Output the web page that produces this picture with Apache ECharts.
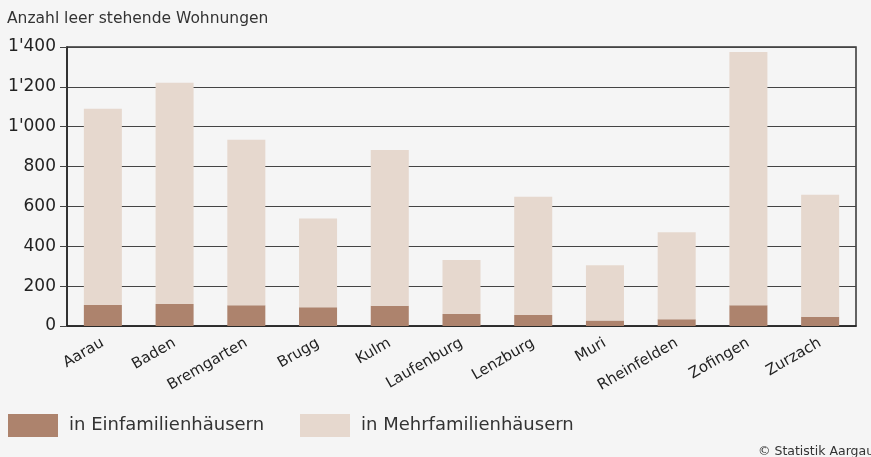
<!DOCTYPE html>
<html>
<head>
<meta charset="utf-8">
<script src="https://cdn.jsdelivr.net/npm/echarts@6/dist/echarts.min.js"></script>
<style>
html,body{margin:0;padding:0;background:#f5f5f5;}
#chart{width:871px;height:457px;}
</style>
</head>
<body>
<div id="chart"></div>
<script>
// Daten
var regionen = ['Aarau','Baden','Bremgarten','Brugg','Kulm','Laufenburg','Lenzburg','Muri','Rheinfelden','Zofingen','Zurzach'];
var einfamilien = [105,110,104,94,102,60,55,27,34,104,47];
var mehrfamilien = [985,1110,831,445,781,271,593,278,436,1271,611];
var yTicks = [0,200,400,600,800,1000,1200,1400];

var font = 'DejaVu Sans, Verdana, sans-serif';

function fmt(v){
	var s = String(v);
	return s.length > 3 ? s.slice(0, s.length-3) + "'" + s.slice(s.length-3) : s;
}

var myChart = echarts.init(document.getElementById('chart'));
var option = {
	backgroundColor: '#f5f5f5',
	animation: false,
	textStyle: {fontFamily: font},
	title: [
		{
			text: 'Anzahl leer stehende Wohnungen',
			left: 2, top: 6,
			textStyle: {fontSize: 15.5, fontWeight: 'normal', color: '#333', fontFamily: font}
		},
		{
			text: '© Statistik Aargau',
			left: 753, top: 440,
			textStyle: {fontSize: 12.5, fontWeight: 'normal', color: '#333', fontFamily: font}
		}
	],
	//两个图例分开放
	legend: [
		{
			left: 3, top: 409,
			icon: 'rect', itemWidth: 50, itemHeight: 23,
			data: ['in Einfamilienhäusern'],
			textStyle: {fontSize: 18, color: '#333', padding: [0,0,0,6], fontFamily: font}
		},
		{
			left: 295, top: 409,
			icon: 'rect', itemWidth: 50, itemHeight: 23,
			data: ['in Mehrfamilienhäusern'],
			textStyle: {fontSize: 18, color: '#333', padding: [0,0,0,6], fontFamily: font}
		}
	],
	grid: {
		left: 67, right: 15, top: 47, bottom: 131,
		show: true, borderColor: '#333', borderWidth: 1.5
	},
	xAxis: {
		type: 'category',
		data: regionen,
		axisLine: {lineStyle: {color: '#222', width: 1.5}},
		axisTick: {alignWithLabel: true, length: 6, lineStyle: {color: '#666'}},
		axisLabel: {rotate: 30, fontSize: 15, color: '#222', margin: 16, fontFamily: font}
	},
	yAxis: {
		type: 'value',
		min: 0, max: 1400, interval: 200,
		axisLine: {show: true, lineStyle: {color: '#222', width: 1.5}},
		axisTick: {show: true, length: 7, lineStyle: {color: '#444'}},
		splitLine: {lineStyle: {color: '#444', width: 1.2}},
		axisLabel: {fontSize: 17, color: '#222', margin: 11, fontFamily: font,
			formatter: function(v){ return yTicks.indexOf(v) >= 0 ? fmt(v) : ''; }}
	},
	series: [
		{
			name: 'in Einfamilienhäusern',
			type: 'bar', stack: 'total', barWidth: '53%',
			itemStyle: {color: '#ad836d'},
			data: einfamilien
		},
		{
			name: 'in Mehrfamilienhäusern',
			type: 'bar', stack: 'total', barWidth: '53%',
			itemStyle: {color: '#e6d8ce'},
			data: mehrfamilien
		}
	]
};
myChart.setOption(option);
</script>
</body>
</html>
